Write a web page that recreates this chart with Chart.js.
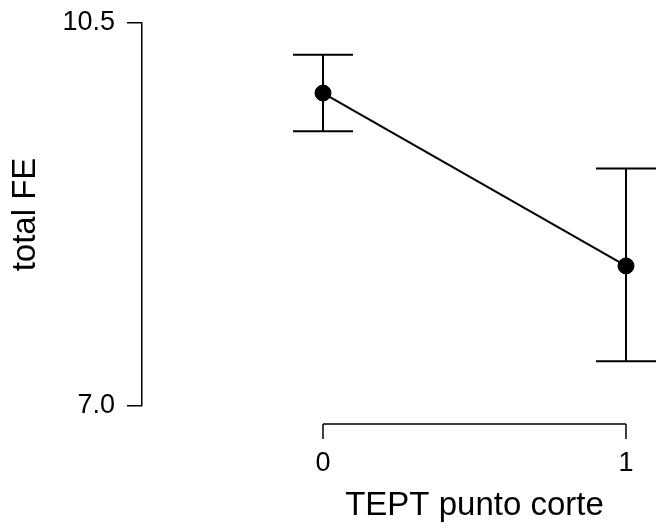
<!DOCTYPE html>
<html>
<head>
<meta charset="utf-8">
<style>
  html, body { margin: 0; padding: 0; overflow: hidden; background: #fff; width: 656px; height: 531px; }
  #wrap { width: 816px; height: 531px; }
</style>
<script src="https://cdn.jsdelivr.net/npm/chart.js@4/dist/chart.umd.min.js"></script>
</head>
<body>
<div id="wrap"><canvas id="c" width="816" height="531" style="width:816px;height:531px;display:block"></canvas></div>
<script>
// ---- data ----
const categories = ['0', '1'];
const means = [9.86, 8.28];
const lowerCI = [9.51, 7.41];
const upperCI = [10.21, 9.17];
const yTicks = [7.0, 10.5];
const xTitle = 'TEPT punto corte';
const yTitle = 'total FE';

const FONT = '"Liberation Sans", Arial, Helvetica, sans-serif';

const errorBars = {
  id: 'errorBars',
  beforeDatasetsDraw(chart) {
    const ctx = chart.ctx, xs = chart.scales.x, ys = chart.scales.y;
    ctx.save();
    ctx.strokeStyle = '#000';
    ctx.lineWidth = 2;
    categories.forEach((c, i) => {
      const px = xs.getPixelForValue(i);
      const pLo = ys.getPixelForValue(lowerCI[i]);
      const pHi = ys.getPixelForValue(upperCI[i]);
      const cap = 30;
      ctx.beginPath();
      ctx.moveTo(px, pLo); ctx.lineTo(px, pHi);
      ctx.moveTo(px - cap, pLo); ctx.lineTo(px + cap, pLo);
      ctx.moveTo(px - cap, pHi); ctx.lineTo(px + cap, pHi);
      ctx.stroke();
    });
    ctx.restore();
  }
};

const xAxisLine = {
  id: 'xAxisLine',
  afterDraw(chart) {
    const ctx = chart.ctx, xs = chart.scales.x;
    const y0 = chart.chartArea.bottom + 18;
    const first = xs.getPixelForValue(0);
    const last = xs.getPixelForValue(categories.length - 1);
    ctx.save();
    ctx.strokeStyle = '#000';
    ctx.lineWidth = 1.5;
    ctx.beginPath();
    ctx.moveTo(first, y0); ctx.lineTo(last, y0);
    categories.forEach((c, i) => {
      const px = xs.getPixelForValue(i);
      ctx.moveTo(px, y0); ctx.lineTo(px, y0 + 15);
    });
    ctx.stroke();
    ctx.restore();
  }
};

new Chart(document.getElementById('c'), {
  type: 'line',
  data: {
    datasets: [{
      data: means.map((m, i) => ({ x: i, y: m })),
      borderColor: '#000',
      backgroundColor: '#000',
      borderWidth: 2,
      pointRadius: 8,
      pointBorderWidth: 1,
      pointBackgroundColor: '#000',
      pointBorderColor: '#000',
      tension: 0,
      clip: false
    }]
  },
  options: {
    responsive: false,
    animation: false,
    devicePixelRatio: 1,
    layout: { padding: { top: 23, left: 0, right: 0, bottom: 0 } },
    plugins: { legend: { display: false }, tooltip: { enabled: false } },
    scales: {
      x: {
        type: 'linear',
        min: -0.5974,
        max: 1.5974,
        afterFit(scale) { scale.height = 125; scale.paddingLeft = 0; scale.paddingRight = 0; },
        afterBuildTicks(scale) { scale.ticks = categories.map((c, i) => ({ value: i })); },
        grid: { display: false, drawTicks: false },
        border: { display: false },
        ticks: {
          padding: 41,
          color: '#000',
          font: { family: FONT, size: 27 },
          maxRotation: 0,
          autoSkip: false,
          callback: (v) => categories[v]
        },
        title: {
          display: true,
          text: xTitle,
          color: '#000',
          font: { family: FONT, size: 33 },
          padding: { top: 0, bottom: 5 }
        }
      },
      y: {
        min: 7.0,
        max: 10.5,
        afterFit(scale) { scale.width = 142; scale.paddingTop = 0; scale.paddingBottom = 0; },
        afterBuildTicks(scale) { scale.ticks = yTicks.map(v => ({ value: v })); },
        grid: {
          display: true,
          drawOnChartArea: false,
          drawTicks: true,
          tickLength: 15,
          color: '#000',
          lineWidth: 1.5
        },
        border: { display: true, color: '#000', width: 1.5 },
        ticks: {
          padding: 12,
          color: '#000',
          font: { family: FONT, size: 27 },
          callback: (v) => Number(v).toFixed(1)
        },
        title: {
          display: true,
          text: yTitle,
          color: '#000',
          font: { family: FONT, size: 33 },
          padding: { top: 6, bottom: 0 }
        }
      }
    }
  },
  plugins: [errorBars, xAxisLine]
});
</script>
</body>
</html>
